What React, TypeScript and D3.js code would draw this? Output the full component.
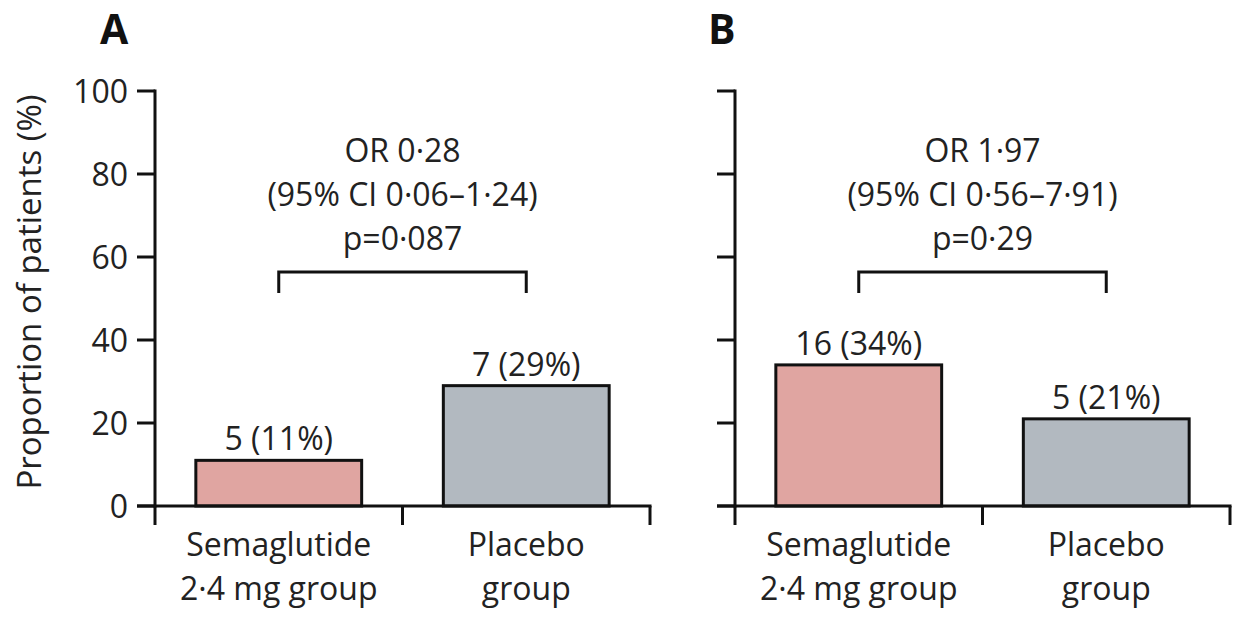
import React from "react";
import * as d3 from "d3";

const panels = ["A", "B"];
const groups = ["Semaglutide\n2·4 mg group", "Placebo\ngroup"];
const valuesA = [11, 29];
const valuesB = [34, 21];
const labelsA = ["5 (11%)", "7 (29%)"];
const labelsB = ["16 (34%)", "5 (21%)"];
const statsA = ["OR 0·28", "(95% CI 0·06–1·24)", "p=0·087"];
const statsB = ["OR 1·97", "(95% CI 0·56–7·91)", "p=0·29"];
const yTicks = [0, 20, 40, 60, 80, 100];
const barColors = ["#e0a5a1", "#b2b9c0"];

const FONT = "'Open Sans', 'Noto Sans', sans-serif";
const FS = 32;

function Panel({ x0, letter, letterX, values, labels, stats, showLabels }: any) {
  const width = 495;
  const x = d3.scaleBand<number>().domain([0, 1]).range([x0, x0 + width]).paddingInner(0).paddingOuter(0);
  const y = d3.scaleLinear().domain([0, 100]).range([506, 91]);
  const bw = x.bandwidth() * 0.67;
  const cx = (i: number) => (x(i) as number) + x.bandwidth() / 2;
  return (
    <g>
      <text x={letterX} y={44} fontFamily={FONT} fontWeight={700} fontSize={41} fill="#111">{letter}</text>
      {values.map((v: number, i: number) => (
        <rect key={i} x={cx(i) - bw / 2} y={y(v)} width={bw} height={y(0) - y(v)}
          fill={barColors[i]} stroke="#111" strokeWidth={3} />
      ))}
      {/* y axis */}
      <line x1={x0} x2={x0} y1={y(100) - 1.5} y2={y(0) + 1.5} stroke="#111" strokeWidth={3} />
      {yTicks.map((t) => (
        <g key={t}>
          <line x1={x0 - 18} x2={x0} y1={y(t)} y2={y(t)} stroke="#111" strokeWidth={3} />
          {showLabels && (
            <text x={x0 - 27} y={y(t)} dy="0.36em" textAnchor="end" fontFamily={FONT} fontSize={FS} fill="#222">{t}</text>
          )}
        </g>
      ))}
      {/* x axis */}
      <line x1={x0 - 18} x2={x0 + width + 1.5} y1={y(0)} y2={y(0)} stroke="#111" strokeWidth={3} />
      {[x0, x0 + width / 2, x0 + width].map((t, i) => (
        <line key={i} x1={t} x2={t} y1={y(0)} y2={y(0) + 19} stroke="#111" strokeWidth={3} />
      ))}
      {groups.map((g, i) => (
        <text key={i} textAnchor="middle" fontFamily={FONT} fontSize={FS} fill="#222">
          {g.split("\n").map((ln, j) => (
            <tspan key={j} x={cx(i)} y={556 + j * 44}>{ln}</tspan>
          ))}
        </text>
      ))}
      {values.map((v: number, i: number) => (
        <text key={i} x={cx(i)} y={y(v) - 10} textAnchor="middle" fontFamily={FONT} fontSize={FS} fill="#222">{labels[i]}</text>
      ))}
      {/* bracket */}
      <path d={`M${cx(0)},${293}V${272}H${cx(1)}V${293}`} fill="none" stroke="#111" strokeWidth={3} />
      {stats.map((s: string, j: number) => (
        <text key={j} x={(cx(0) + cx(1)) / 2} y={162 + j * 44} textAnchor="middle" fontFamily={FONT} fontSize={FS} fill="#222">{s}</text>
      ))}
    </g>
  );
}

export default function App() {
  return (
    <svg width={1233} height={618} style={{ display: "block", position: "absolute", left: 0, top: 0, background: "#fff" }}>
      <rect width={1233} height={618} fill="#fff" />
      <text transform="translate(41,292) rotate(-90)" textAnchor="middle" fontFamily={FONT} fontSize={33} fill="#222">
        Proportion of patients (%)
      </text>
      <Panel x0={155} letter={panels[0]} letterX={100} values={valuesA} labels={labelsA} stats={statsA} showLabels={true} />
      <Panel x0={735} letter={panels[1]} letterX={708} values={valuesB} labels={labelsB} stats={statsB} showLabels={false} />
    </svg>
  );
}
